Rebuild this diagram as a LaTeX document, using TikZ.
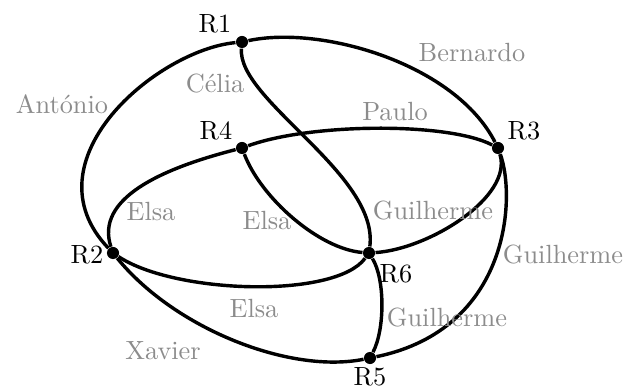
\documentclass[tikz,border=0pt]{standalone}
\usepackage{tikz}
\begin{document}
\begin{tikzpicture}[x=0.38pt,y=0.38pt,
        router/.style={circle,fill=black,inner sep=0pt,minimum size=4.6pt},
        rname/.style={anchor=base},
        who/.style={anchor=base,text=black!45},
        link/.style={line width=1.3pt}]
            \useasboundingbox (0,0) rectangle (636,389);
            % routers
            \node[router] (R1) at (242,347) {};
            \node[router] (R4) at (242,241) {};
            \node[router] (R3) at (498,241) {};
            \node[router] (R2) at (113,136) {};
            \node[router] (R6) at (369,136) {};
            \node[router] (R5) at (370,31) {};
            \node[rname] (n1) at (215,356) {R1};
            \node[rname] (n4) at (216,249) {R4};
            \node[rname] (n3) at (524,249) {R3};
            \node[rname] (n2) at (87,126) {R2};
            \node[rname] (n6) at (396,106) {R6};
            \node[rname] (n5) at (370,4) {R5};
            % links
            \draw[link] (R1) .. controls +(-85,-8) and +(-88,92) .. (R2);
            \draw[link] (R1) .. controls +(80,17) and +(-43,84) .. (R3);
            \draw[link] (R1) .. controls +(-5,-58) and +(10,79) .. (R6);
            \draw[link] (R4) .. controls +(69,25) and +(-50,26) .. (R3);
            \draw[link] (R4) .. controls +(-82,-21) and +(-18,54) .. (R2);
            \draw[link] (R4) .. controls +(19,-50) and +(-50,4) .. (R6);
            \draw[link] (R2) .. controls +(62,-41) and +(-34,-46) .. (R6);
            \draw[link] (R6) .. controls +(60,4) and +(15,-49) .. (R3);
            \draw[link] (R3) .. controls +(18,-49) and +(140,29) .. (R5);
            \draw[link] (R6) .. controls +(16,-26) and +(15,29) .. (R5);
            \draw[link] (R2) .. controls +(62,-76) and +(-80,-16) .. (R5);
            % names on the links
            \node[who] (celia) at (215,296) {Célia};
            \node[who] (antonio) at (62,275) {António};
            \node[who] (bernardo) at (472,327) {Bernardo};
            \node[who] (paulo) at (395,268) {Paulo};
            \node[who] (elsaA) at (151,168) {Elsa};
            \node[who] (elsaB) at (267,159) {Elsa};
            \node[who] (elsaC) at (254,72) {Elsa};
            \node[who] (guiA) at (433,169) {Guilherme};
            \node[who] (guiB) at (563,126) {Guilherme};
            \node[who] (guiC) at (447,62) {Guilherme};
            \node[who] (xavier) at (163,30) {Xavier};
        \end{tikzpicture}
\end{document}
